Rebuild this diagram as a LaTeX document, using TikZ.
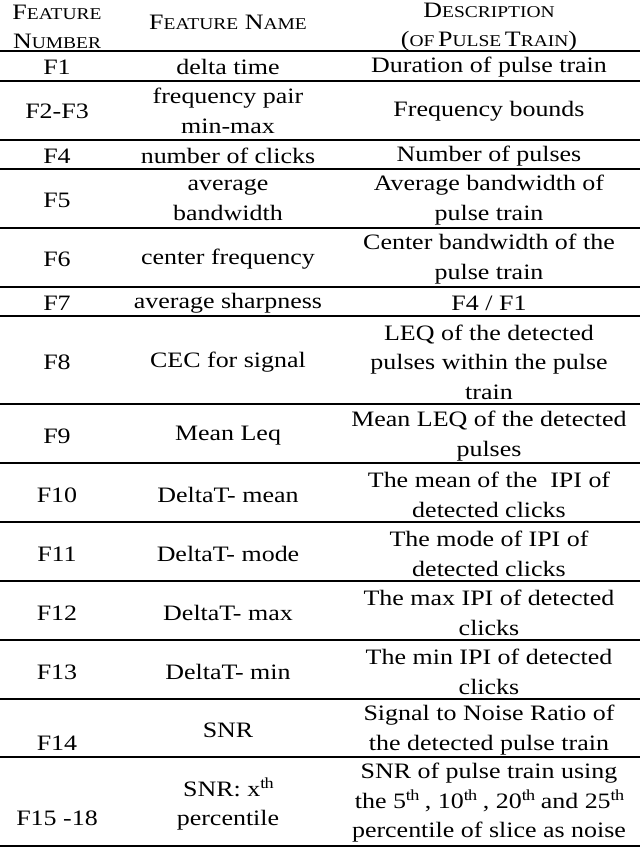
\documentclass[tikz,border=0pt]{standalone}
\usepackage{fontspec}
\setmainfont[FakeStretch=1.18]{Liberation Serif}
\newcommand{\SC}[2]{{\fontsize{22}{29}\selectfont #1}{\fontsize{16.5}{29}\selectfont #2}}
\begin{document}
\begin{tikzpicture}[x=1pt,y=-1pt,
  cell/.style={align=center,font=\fontsize{22}{29.5}\selectfont,inner sep=0pt},
  rule/.style={line width=2pt}]
\useasboundingbox (0,0) rectangle (640,848);
\foreach \y [count=\i] in {51,81,140,169,228,287,316,404,463,522,581,640,699,757,846}
  \draw[rule] (0,\y) -- (640,\y) coordinate (r\i);
\def\a{57}\def\b{228}\def\c{489}
\node[cell] (h1) at (\a,27) {\SC{F}{EATURE}\\\SC{N}{UMBER}};
\node[cell] (h2) at (\b,22) {\SC{F}{EATURE}\ \SC{N}{AME}};
\node[cell] (h3) at (\c,27) {\SC{D}{ESCRIPTION}\\\SC{(}{OF}\,\SC{P}{ULSE}\,\SC{T}{RAIN}\SC{)}{}};
\node[cell] (a1) at (\a,67) {F1};
\node[cell] (b1) at (\b,67) {delta time};
\node[cell] (c1) at (\c,67) {Duration of pulse train};
\node[cell] (a2) at (\a,111) {F2-F3};
\node[cell] (b2) at (\b,111) {frequency pair\\min-max};
\node[cell] (c2) at (\c,111) {Frequency bounds};
\node[cell] (a3) at (\a,156) {F4};
\node[cell] (b3) at (\b,156) {number of clicks};
\node[cell] (c3) at (\c,156) {Number of pulses};
\node[cell] (a4) at (\a,200) {F5};
\node[cell] (b4) at (\b,200) {average\\bandwidth};
\node[cell] (c4) at (\c,200) {Average bandwidth of\\pulse train};
\node[cell] (a5) at (\a,259) {F6};
\node[cell] (b5) at (\b,259) {center frequency};
\node[cell] (c5) at (\c,259) {Center bandwidth of the\\pulse train};
\node[cell] (a6) at (\a,303) {F7};
\node[cell] (b6) at (\b,303) {average sharpness};
\node[cell] (c6) at (\c,303) {F4 / F1};
\node[cell] (a7) at (\a,362) {F8};
\node[cell] (b7) at (\b,362) {CEC for signal};
\node[cell] (c7) at (\c,362) {LEQ of the detected\\pulses within the pulse\\train};
\node[cell] (a8) at (\a,436) {F9};
\node[cell] (b8) at (\b,436) {Mean Leq};
\node[cell] (c8) at (\c,436) {Mean LEQ of the detected\\pulses};
\node[cell] (a9) at (\a,495) {F10};
\node[cell] (b9) at (\b,495) {DeltaT- mean};
\node[cell] (c9) at (\c,495) {The mean of the\ \ IPI of\\detected clicks};
\node[cell] (a10) at (\a,554) {F11};
\node[cell] (b10) at (\b,554) {DeltaT- mode};
\node[cell] (c10) at (\c,554) {The mode of IPI of\\detected clicks};
\node[cell] (a11) at (\a,613) {F12};
\node[cell] (b11) at (\b,613) {DeltaT- max};
\node[cell] (c11) at (\c,613) {The max IPI of detected\\clicks};
\node[cell] (a12) at (\a,672) {F13};
\node[cell] (b12) at (\b,672) {DeltaT- min};
\node[cell] (c12) at (\c,672) {The min IPI of detected\\clicks};
\node[cell] (a13) at (\a,743) {F14};
\node[cell] (b13) at (\b,730) {SNR};
\node[cell] (c13) at (\c,730) {Signal to Noise Ratio of\\the detected pulse train};
\node[cell] (a14) at (\a,818) {F15 -18};
\node[cell] (b14) at (\b,804) {SNR: x$^{\mathrm{th}}$\\percentile};
\node[cell] (c14) at (\c,803) {SNR of pulse train using\\the 5$^{\mathrm{th}}$ , 10$^{\mathrm{th}}$ , 20$^{\mathrm{th}}$ and 25$^{\mathrm{th}}$\\percentile of slice as noise};
\end{tikzpicture}
\end{document}
